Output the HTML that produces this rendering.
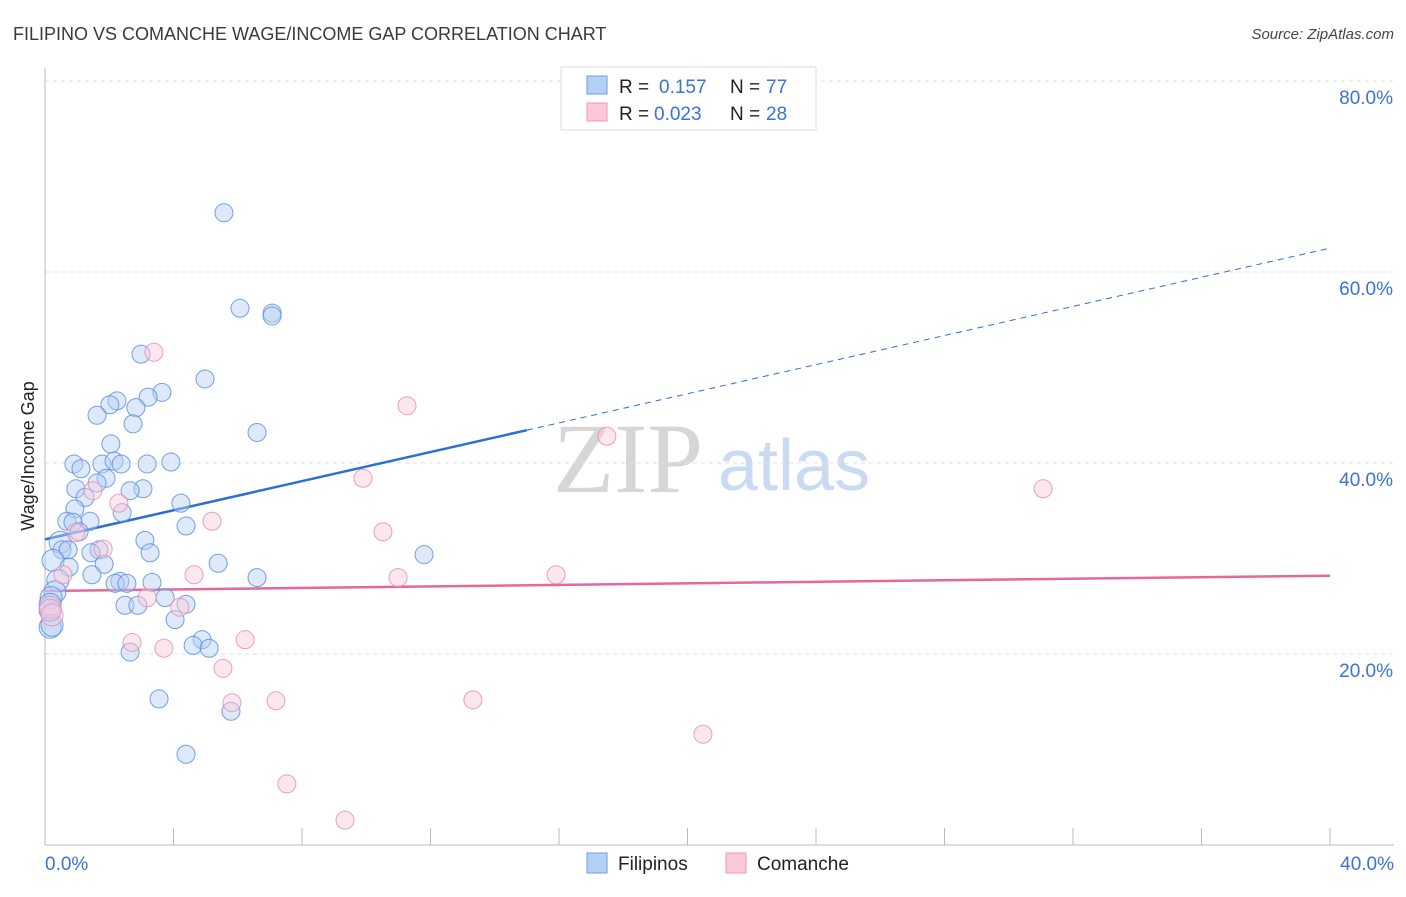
<!DOCTYPE html>
<html><head><meta charset="utf-8"><style>
body{margin:0;background:#fff;font-family:"Liberation Sans",sans-serif}
svg text{font-family:"Liberation Sans",sans-serif}
svg text.serif{font-family:"Liberation Serif",serif}
</style></head><body>
<svg id="chart" width="1406" height="892" xmlns="http://www.w3.org/2000/svg">
<text x="13" y="40" font-size="18" fill="#3a3a3a">FILIPINO VS COMANCHE WAGE/INCOME GAP CORRELATION CHART</text>
<text x="1394" y="39" font-size="15" fill="#444" font-style="italic" text-anchor="end">Source: ZipAtlas.com</text>
<g>
<text class="serif" x="553" y="492" font-size="100" fill="#d6d6d6">ZIP</text>
<text x="718" y="490" font-size="72" fill="#c9daf2">atlas</text>
</g>
<text transform="translate(34,456) rotate(-90)" font-size="18" fill="#222" text-anchor="middle">Wage/Income Gap</text>
<g id="grid"></g><g id="axes"></g><g id="trends"></g><g id="pts"></g>
<g>
<rect x="561" y="67" width="255" height="63" fill="#fff" stroke="#ddd"/>
<rect x="587" y="76" width="20" height="18" fill="#b5d0f5" stroke="#6d9ee6"/>
<rect x="587" y="103" width="20" height="18" fill="#fbc9d9" stroke="#ef97b4"/>
<text x="619" y="93" font-size="19" fill="#222">R =</text>
<text x="659" y="93" font-size="19" fill="#3a72d6">0.157</text>
<text x="730" y="93" font-size="19" fill="#222">N =</text>
<text x="766" y="93" font-size="19" fill="#3a72d6">77</text>
<text x="619" y="120" font-size="19" fill="#222">R =</text>
<text x="654" y="120" font-size="19" fill="#3a72d6">0.023</text>
<text x="730" y="120" font-size="19" fill="#222">N =</text>
<text x="766" y="120" font-size="19" fill="#3a72d6">28</text>
</g>
<g>
<rect x="587" y="853" width="20" height="20" fill="#b5d0f5" stroke="#6d9ee6"/>
<text x="618" y="870" font-size="19" fill="#222">Filipinos</text>
<rect x="726" y="853" width="20" height="20" fill="#fbc9d9" stroke="#ef97b4"/>
<text x="757" y="870" font-size="19" fill="#222">Comanche</text>
</g>
</svg>
<script>
const yTicks=[20,40,60,80];
const xTickLabels=["0.0%","40.0%"];
const blueX=[5.57,6.07,7.07,7.07,2.99,4.98,3.64,3.21,2.24,2.02,2.83,1.62,2.74,6.60,2.05,0.90,1.77,2.15,2.37,3.18,3.92,1.12,1.90,1.62,0.96,3.05,2.65,1.25,4.23,0.93,2.40,0.68,1.40,0.87,4.39,1.06,3.11,0.47,0.53,0.72,1.68,3.27,1.43,11.80,0.25,1.84,5.39,0.75,1.46,6.60,2.33,2.18,2.55,3.33,0.40,0.31,0.19,0.16,3.74,2.49,2.89,4.39,4.05,0.16,0.22,4.89,4.61,5.11,2.65,3.55,5.79,4.39,0.16];
const blueY=[66.2,56.2,55.7,55.4,51.4,48.8,47.4,46.9,46.5,46.1,45.8,45.0,44.1,43.2,42.0,39.9,39.9,40.2,39.9,39.9,40.1,39.4,38.4,37.9,37.3,37.3,37.1,36.4,35.8,35.2,34.8,33.9,33.9,33.8,33.4,32.8,31.9,31.7,30.9,30.9,30.9,30.6,30.6,30.4,29.8,29.4,29.5,29.1,28.3,28.0,27.6,27.4,27.4,27.5,27.7,26.5,25.9,25.2,25.9,25.1,25.1,25.2,23.6,22.8,23.0,21.5,20.9,20.6,20.2,15.3,14.0,9.5,24.6];
const pinkX=[3.39,11.27,17.49,31.07,9.90,2.30,1.49,5.20,10.52,0.96,1.81,0.56,4.64,10.99,15.91,3.18,4.20,0.16,0.22,2.71,3.70,6.23,5.54,5.82,7.19,13.32,20.48,7.53,9.34];
const pinkY=[51.6,46.0,42.8,37.3,38.4,35.8,37.1,33.9,32.8,32.7,31.0,28.3,28.3,28.0,28.3,25.9,24.9,24.9,24.1,21.2,20.6,21.5,18.5,14.9,15.1,15.2,11.6,6.4,2.6];
const blueTrend=[32.0,62.5]; const blueSolidEnd=15.0;
const pinkTrend=[26.6,28.2];
const NS="http://www.w3.org/2000/svg";
const sx=v=>45+v/40*1285, sy=v=>845-v/20*191;
function mk(tag,attrs,parent){const e=document.createElementNS(NS,tag);for(const k in attrs)e.setAttribute(k,attrs[k]);document.getElementById(parent).appendChild(e);return e;}
yTicks.forEach(t=>{
 const l=mk('line',{x1:45,x2:1394,y1:sy(t),y2:sy(t),stroke:'#e2e2e2','stroke-dasharray':'4,4'},'grid');
 
 
 const tx=mk('text',{x:1393,y:sy(t)+23,'font-size':19,fill:'#3a72d6','text-anchor':'end'},'grid');tx.textContent=t.toFixed(1)+'%';
 
 
});
const ax=mk('line',{x1:45,x2:1394,y1:845,y2:845,stroke:'#bbb'},'axes');


const ay=mk('line',{x1:45,x2:45,y1:68,y2:845,stroke:'#bbb'},'axes');


for(let i=0;i<=10;i++){const t=mk('line',{x1:sx(i*4),x2:sx(i*4),y1:828,y2:845,stroke:'#bbb'},'axes');
 
 }
[[0,'start',45],[40,'end',1394]].forEach((d,i)=>{const t=mk('text',{x:d[2],y:870,'font-size':19,fill:'#3a72d6','text-anchor':d[1]},'axes');t.textContent=xTickLabels[i];
 
 });
function pts(X,Y,fill,stroke,name){X.forEach((x,i)=>{const r=x<0.5?11:9;const c=mk('circle',{cx:sx(x),cy:sy(Y[i]),r:r,fill:fill,'fill-opacity':0.45,stroke:stroke,'stroke-width':1,'stroke-opacity':0.85},'pts');
 
 });}
pts(blueX,blueY,'#b5d0f5','#5b8fe0','filipino-point');
pts(pinkX,pinkY,'#fbc9d9','#ec8db0','comanche-point');
const bt=v=>blueTrend[0]+(blueTrend[1]-blueTrend[0])*v/40;
const b1=mk('line',{x1:sx(0),y1:sy(bt(0)),x2:sx(blueSolidEnd),y2:sy(bt(blueSolidEnd)),stroke:'#2a6fd6','stroke-width':2.5},'trends');


const b2=mk('line',{x1:sx(blueSolidEnd),y1:sy(bt(blueSolidEnd)),x2:sx(40),y2:sy(bt(40)),stroke:'#2a6fd6','stroke-width':1,'stroke-dasharray':'6,5'},'trends');


const p1=mk('line',{x1:sx(0),y1:sy(pinkTrend[0]),x2:sx(40),y2:sy(pinkTrend[1]),stroke:'#e8679a','stroke-width':2.5},'trends');


</script>
</body></html>
